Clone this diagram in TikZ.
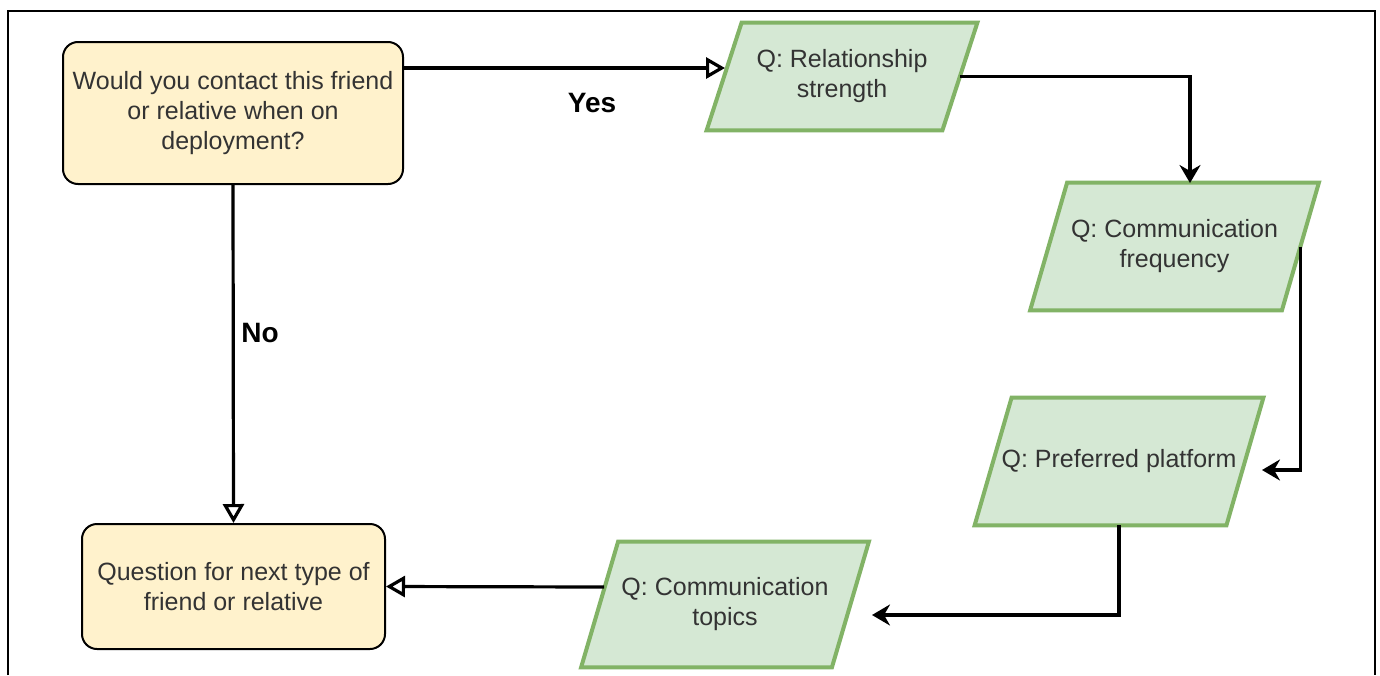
\documentclass[tikz,border=0pt]{standalone}
\usepackage{fontspec}
\setmainfont{Liberation Sans}
\usetikzlibrary{arrows.meta,backgrounds,calc}

\definecolor{boxfill}{HTML}{FFF2CC}
\definecolor{qfill}{HTML}{D5E8D4}
\definecolor{qline}{HTML}{82B366}
\definecolor{txt}{HTML}{333333}

\tikzset{
  decision/.style={draw=black, line width=1pt, fill=boxfill, rounded corners=7.5pt,
    align=center, text=txt, font=\fontsize{12.5pt}{15pt}\selectfont, inner sep=0pt},
  question/.style={align=center, text=txt, font=\fontsize{12.5pt}{15pt}\selectfont, inner sep=0pt},
  qborder/.style={draw=qline, fill=qfill, line width=2pt, line join=miter},
  flow/.style={line width=1.6pt, draw=black},
  openarrow/.style={flow, -{Triangle[open, length=9.5pt, width=10.5pt]}},
  fillarrow/.style={flow, -{Stealth[length=9pt, width=10.5pt, inset=3pt]}},
  edgelabel/.style={font=\fontsize{14pt}{16pt}\selectfont\bfseries, text=black}
}

% parallelogram drawn around a text node: #1 node name, #2 half of the slant
\newcommand\qpara[2]{%
  \path[qborder] ([xshift=-#2]#1.south west) -- ([xshift=#2]#1.north west)
    -- ([xshift=#2]#1.north east) -- ([xshift=-#2]#1.south east) -- cycle;}

\begin{document}
\begin{tikzpicture}[x=0.5pt,y=-0.5pt]
\useasboundingbox (0,0) rectangle (1380,675);

% boxes
\node[decision, minimum width=170pt, minimum height=71pt] (ask) at (233,113)
  {Would you contact this friend\\or relative when on\\deployment?};
\node[decision, minimum width=151.5pt, minimum height=62.5pt] (next) at (233.5,586.5)
  {Question for next type of\\friend or relative};

% question steps
\node[question, minimum width=117.5pt, minimum height=53.5pt] (rel) at (842,76.5)
  {Q: Relationship\\strength};
\node[question, minimum width=125.5pt, minimum height=63.5pt] (freq) at (1174.5,246.5)
  {Q: Communication\\frequency};
\node[question, minimum width=125.5pt, minimum height=63.5pt] (plat) at (1119,461.5)
  {Q: Preferred platform};
\node[question, minimum width=125pt, minimum height=62.5pt] (topic) at (725,604.5)
  {Q: Communication\\topics};

\begin{scope}[on background layer]
  \fill[white] (0,0) rectangle (1380,675);
  \qpara{rel}{8.75pt}
  \qpara{freq}{9.25pt}
  \qpara{plat}{9.25pt}
  \qpara{topic}{9.25pt}
\end{scope}

% connectors
\coordinate (yesEnd) at (725,68);
\draw[openarrow] (ask.east |- yesEnd) -- (yesEnd);
\coordinate (freqTop) at (1190,183);
\draw[fillarrow] (rel.east) -- (rel.east -| freqTop) -- (freqTop);
\coordinate (platIn) at (1262,470);
\draw[fillarrow] (freq.east) -- (freq.east |- platIn) -- (platIn);
\coordinate (topicIn) at (872,615);
\draw[fillarrow] (plat.south) -- (plat.south |- topicIn) -- (topicIn);
\coordinate (topicOut) at (604,587);
\draw[openarrow] (topicOut) -- (next.east);
\draw[openarrow] (ask.south) -- (next.north);

% branch labels
\node[edgelabel] (yes) at (592,103) {Yes};
\node[edgelabel] (no) at (260,333) {No};

% frame
\draw[line width=1.2pt] (8,675) -- (8,11) -- (1375,11) -- (1375,675);
\end{tikzpicture}
\end{document}
